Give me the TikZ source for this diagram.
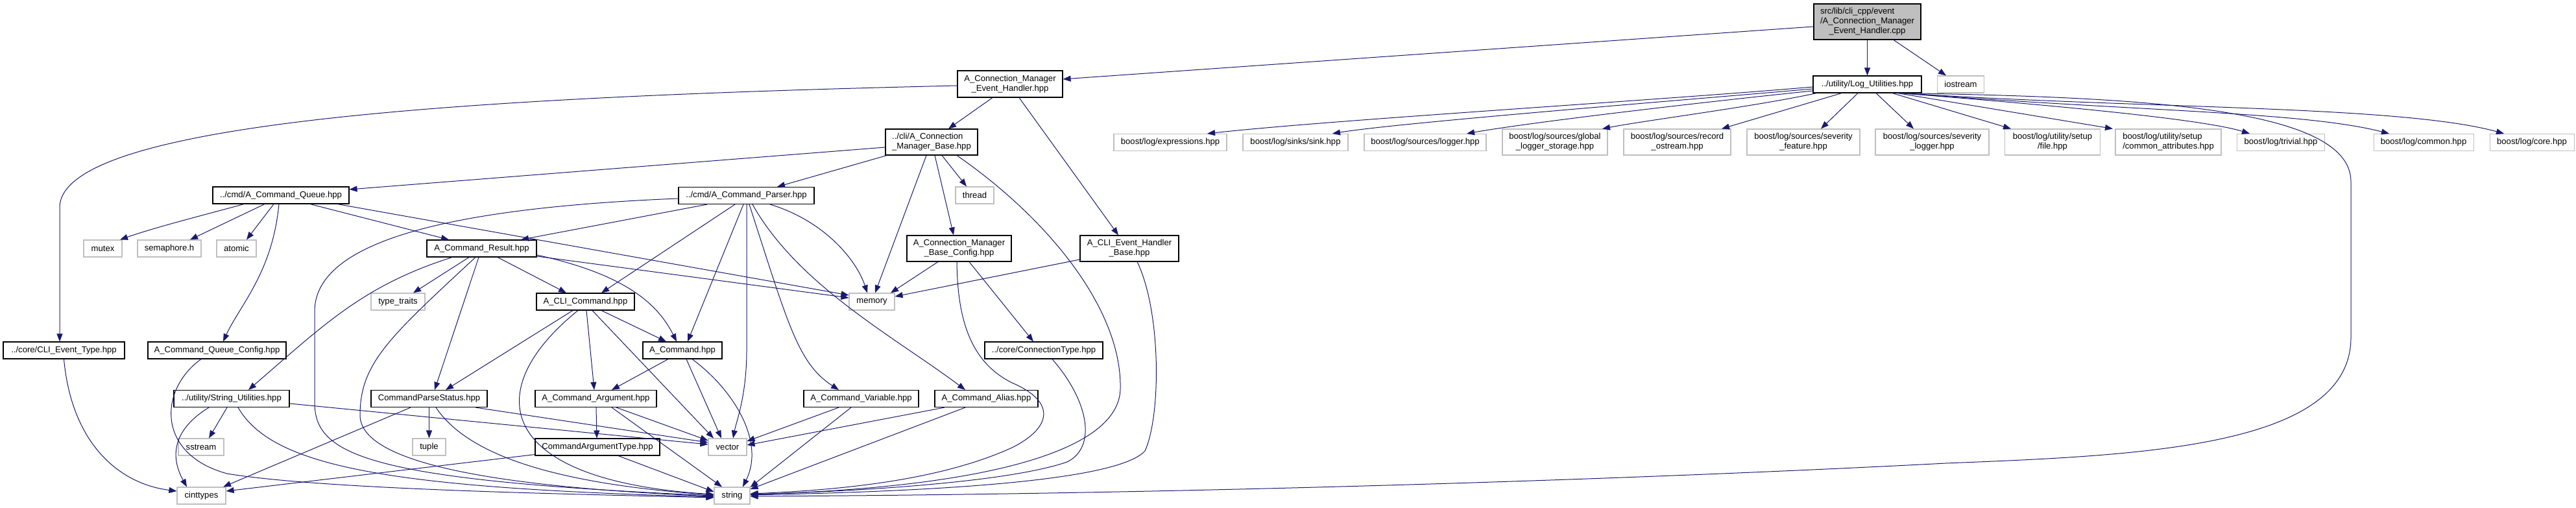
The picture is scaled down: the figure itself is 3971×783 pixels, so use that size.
\documentclass[tikz,border=0pt]{standalone}
\usepackage{fontspec}
\setmainfont{Liberation Sans}
\usetikzlibrary{arrows.meta}
\definecolor{edgecol}{RGB}{25,25,112}
\definecolor{greyb}{RGB}{191,191,191}
\begin{document}
\begin{tikzpicture}[x=1pt,y=-1pt,
  box/.style={inner sep=0pt, line width=1.1pt, fill=white, minimum height=26pt, font=\fontsize{13.1pt}{14.8pt}\selectfont, align=center},
  doc/.style={box, draw=black},
  ext/.style={box, draw=greyb},
  rootn/.style={box, draw=black, fill=greyb},
  dep/.style={draw=edgecol, line width=1pt, -{Triangle[length=12pt,width=9pt]}}]
\fill[white] (0,0) rectangle (3971,783);
\useasboundingbox (0,0) rectangle (3971,783);

% nodes
\node[rootn, minimum width=165pt, minimum height=55pt] (root) at (2878.5,33.5) {\begin{tabular}{@{}l@{}}src/lib/cli\_cpp/event\\/A\_Connection\_Manager\\\multicolumn{1}{@{}c@{}}{\_Event\_Handler.cpp}\end{tabular}};
\node[doc, minimum width=162pt, minimum height=41pt] (cmeh) at (1557,129.5) {A\_Connection\_Manager\\\_Event\_Handler.hpp};
\node[doc, minimum width=167pt] (lu) at (2878.5,130) {../utility/Log\_Utilities.hpp};
\node[ext, minimum width=72pt] (ios) at (3022.5,130) {iostream};
\node[ext, minimum width=174pt] (expr) at (1804,219.5) {boost/log/expressions.hpp};
\node[ext, minimum width=162pt] (sink) at (1997,219.5) {boost/log/sinks/sink.hpp};
\node[ext, minimum width=188pt] (slog) at (2197,219.5) {boost/log/sources/logger.hpp};
\node[ext, minimum width=162pt, minimum height=40pt] (glob) at (2397,219) {boost/log/sources/global\\\_logger\_storage.hpp};
\node[ext, minimum width=165pt, minimum height=40pt] (rec) at (2585.5,219) {boost/log/sources/record\\\_ostream.hpp};
\node[ext, minimum width=174pt, minimum height=40pt] (sevf) at (2780,219) {boost/log/sources/severity\\\_feature.hpp};
\node[ext, minimum width=175pt, minimum height=40pt] (sevl) at (2978.5,219) {boost/log/sources/severity\\\_logger.hpp};
\node[ext, minimum width=147pt, minimum height=40pt] (file) at (3164,219) {boost/log/utility/setup\\/file.hpp};
\node[ext, minimum width=163pt, minimum height=40pt] (catt) at (3342.5,219) {\begin{tabular}{@{}l@{}}boost/log/utility/setup\\/common\_attributes.hpp\end{tabular}};
\node[ext, minimum width=135pt] (triv) at (3516,219.5) {boost/log/trivial.hpp};
\node[ext, minimum width=154pt] (comm) at (3736,219.5) {boost/log/common.hpp};
\node[ext, minimum width=130pt] (core) at (3903,219.5) {boost/log/core.hpp};

\node[doc, minimum width=142pt, minimum height=40pt] (cmb) at (1436,219) {\begin{tabular}{@{}l@{}}../cli/A\_Connection\\\_Manager\_Base.hpp\end{tabular}};
\node[ext, minimum width=59pt] (thread) at (1502.5,301) {thread};
\node[doc, minimum width=209pt] (cp) at (1150.5,301.5) {../cmd/A\_Command\_Parser.hpp};
\node[doc, minimum width=210pt] (cq) at (433,301) {../cmd/A\_Command\_Queue.hpp};
\node[doc, minimum width=161pt, minimum height=40pt] (cmbc) at (1478.5,383) {A\_Connection\_Manager\\\_Base\_Config.hpp};
\node[doc, minimum width=152pt, minimum height=40pt] (cehb) at (1741,383) {A\_CLI\_Event\_Handler\\\_Base.hpp};
\node[ext, minimum width=59pt] (mutex) at (158.5,383) {mutex};
\node[ext, minimum width=98pt] (sem) at (261,383) {semaphore.h};
\node[ext, minimum width=61pt] (atomic) at (364.5,383) {atomic};
\node[doc, minimum width=169pt] (acr) at (742.5,383) {A\_Command\_Result.hpp};
\node[ext, minimum width=70pt] (memory) at (1344,465) {memory};
\node[ext, minimum width=83pt] (tt) at (613.5,465) {type\_traits};
\node[doc, minimum width=151pt] (acli) at (902.5,465) {A\_CLI\_Command.hpp};
\node[doc, minimum width=187pt] (cet) at (98.5,540) {../core/CLI\_Event\_Type.hpp};
\node[doc, minimum width=213pt] (cqc) at (334.5,540) {A\_Command\_Queue\_Config.hpp};
\node[doc, minimum width=122pt] (ac) at (1052,540) {A\_Command.hpp};
\node[doc, minimum width=182pt] (ct) at (1609,540) {../core/ConnectionType.hpp};
\node[doc, minimum width=178pt] (su) at (357,614.5) {../utility/String\_Utilities.hpp};
\node[doc, minimum width=179pt] (cps) at (661.5,614.5) {CommandParseStatus.hpp};
\node[doc, minimum width=187pt] (aarg) at (918.5,614.5) {A\_Command\_Argument.hpp};
\node[doc, minimum width=177pt] (avar) at (1327.5,614.5) {A\_Command\_Variable.hpp};
\node[doc, minimum width=159pt] (aal) at (1520.5,614.5) {A\_Command\_Alias.hpp};
\node[ext, minimum width=70pt] (sstream) at (310,689) {sstream};
\node[ext, minimum width=51pt] (tuple) at (661.5,689) {tuple};
\node[doc, minimum width=192pt] (cat) at (921,689) {CommandArgumentType.hpp};
\node[ext, minimum width=59pt] (vec) at (1121.5,689) {vector};
\node[ext, minimum width=75pt] (cint) at (310.5,764) {cinttypes};
\node[ext, minimum width=55pt] (str) at (1128.5,764) {string};

% root
\draw[dep] ([yshift=-7.5pt]root.west) -- ([yshift=7.5pt]cmeh.east);
\draw[dep] (root.south) -- (lu.north);
\draw[dep] ([xshift=40.5pt]root.south) -- ([xshift=-22.5pt]ios.north);
% cmeh
\draw[dep] ([xshift=-27pt]cmeh.south) -- ([xshift=26pt]cmb.north);
\draw[dep] ([xshift=14pt]cmeh.south) -- ([xshift=-17pt]cehb.north);
\draw[dep] ([yshift=-2.5pt]cmeh.west) .. controls (700,150) and (92,190) .. (92,320) -- ([xshift=-6.5pt]cet.north);
% lu
\draw[dep] ([yshift=-4pt]lu.west) .. controls (2550,155) and (2050,185) .. ([xshift=57pt]expr.north);
\draw[dep] ([yshift=-7pt]lu.west) .. controls (2550,158) and (2150,190) .. ([xshift=57pt]sink.north);
\draw[dep] ([yshift=-10pt]lu.west) .. controls (2600,160) and (2350,190) .. ([xshift=64pt]slog.north);
\draw[dep] ([xshift=-78pt]lu.south) .. controls (2700,165) and (2540,185) .. ([xshift=73pt]glob.north);
\draw[dep] ([xshift=-39.5pt]lu.south) -- ([xshift=68.5pt]rec.north);
\draw[dep] ([xshift=-14.5pt]lu.south) -- ([xshift=27pt]sevf.north);
\draw[dep] ([xshift=13.5pt]lu.south) -- ([xshift=-28.5pt]sevl.north);
\draw[dep] ([xshift=38.5pt]lu.south) -- ([xshift=-64pt]file.north);
\draw[dep] ([xshift=46.5pt]lu.south) -- ([xshift=-85.5pt]catt.north);
\draw[dep] ([xshift=50.5pt]lu.south) .. controls (3200,165) and (3400,185) .. ([xshift=-48pt]triv.north);
\draw[dep] ([xshift=52.5pt]lu.south) .. controls (3300,172) and (3550,172) .. ([xshift=-53pt]comm.north);
\draw[dep] ([xshift=54.5pt]lu.south) .. controls (3300,168) and (3700,162) .. ([xshift=-43pt]core.north);
\draw[dep] ([xshift=56.5pt]lu.south) .. controls (3300,150) and (3624,165) .. (3624,280) -- (3624,520) .. controls (3624,690) and (3300,702) .. (3000,714) .. controls (2500,740) and (1800,762) .. ([yshift=-1pt]str.east);
% cmb
\draw[dep] ([yshift=-8pt]cmb.west) -- ([yshift=9pt]cq.east);
\draw[dep] ([xshift=-69pt]cmb.south) -- ([xshift=47.5pt]cp.north);
\draw[dep] ([xshift=-8pt]cmb.south) -- ([xshift=5pt]memory.north);
\draw[dep] ([xshift=16pt]cmb.south) -- ([xshift=-12.5pt]thread.north);
\draw[dep] ([xshift=5pt]cmb.south) -- ([xshift=-8.5pt]cmbc.north);
\draw[dep] ([xshift=39pt]cmb.south) .. controls (1620,340) and (1730,480) .. (1727,600) .. controls (1724,700) and (1500,752) .. ([yshift=2pt]str.east);
% cq
\draw[dep] ([xshift=-57pt]cq.south) .. controls (320,330) and (240,350) .. ([xshift=26.5pt]mutex.north);
\draw[dep] ([xshift=-25pt]cq.south) -- ([xshift=32pt]sem.north);
\draw[dep] ([xshift=-11pt]cq.south) -- ([xshift=15.5pt]atomic.north);
\draw[dep] ([xshift=-3pt]cq.south) .. controls (420,420) and (370,470) .. ([xshift=9.5pt]cqc.north);
\draw[dep] ([xshift=45pt]cq.south) -- ([xshift=-50.5pt]acr.north);
\draw[dep] ([xshift=87pt]cq.south) -- ([yshift=10pt]memory.west);
% cp
\draw[dep] ([xshift=-60.5pt]cp.south) -- ([xshift=60.5pt]acr.north);
\draw[dep] ([xshift=-17.5pt]cp.south) -- ([xshift=24.5pt]acli.north);
\draw[dep] ([xshift=-4.5pt]cp.south) -- ([xshift=8pt]ac.north);
\draw[dep] ([xshift=0.5pt]cp.south) -- (1151,540) .. controls (1151,610) and (1135,650) .. ([xshift=8.5pt]vec.north);
\draw[dep] ([xshift=4.5pt]cp.south) .. controls (1215,500) and (1230,560) .. ([xshift=-34.5pt]avar.north);
\draw[dep] ([xshift=9.5pt]cp.south) .. controls (1230,440) and (1380,520) .. ([xshift=-32.5pt]aal.north);
\draw[dep] ([xshift=36.5pt]cp.south) .. controls (1270,340) and (1320,400) .. ([xshift=-7pt]memory.north);
\draw[dep] ([yshift=-4.5pt]cp.west) .. controls (700,320) and (485,370) .. (485,480) -- (485,620) .. controls (485,700) and (560,740) .. (str.west);
% cmbc
\draw[dep] ([xshift=-32.5pt]cmbc.south) -- ([xshift=29pt]memory.north);
\draw[dep] ([xshift=-3.5pt]cmbc.south) .. controls (1476,500) and (1500,560) .. (1560,590) .. controls (1630,620) and (1620,660) .. (1560,690) .. controls (1450,740) and (1300,755) .. ([yshift=3pt]str.east);
\draw[dep] ([xshift=15.5pt]cmbc.south) -- ([xshift=-16pt]ct.north);
% cehb
\draw[dep] ([yshift=-17pt]cehb.west) -- ([yshift=8pt]memory.east);
\draw[dep] ([xshift=12pt]cehb.south) .. controls (1790,480) and (1790,640) .. (1765,695) .. controls (1720,745) and (1400,758) .. ([yshift=1pt]str.east);
% ct
\draw[dep] ([xshift=13pt]ct.south) .. controls (1680,620) and (1690,690) .. (1645,712) .. controls (1550,745) and (1300,758) .. ([yshift=2pt]str.east);
% acr
\draw[dep] ([xshift=-45.5pt]acr.south) .. controls (560,440) and (500,500) .. ([xshift=26pt]su.north);
\draw[dep] ([xshift=-19.5pt]acr.south) -- ([xshift=23.5pt]tt.north);
\draw[dep] ([xshift=-9.5pt]acr.south) .. controls (600,520) and (555,560) .. (555,640) .. controls (555,720) and (800,752) .. ([yshift=-1pt]str.west);
\draw[dep] ([xshift=-4.5pt]acr.south) -- ([xshift=8.5pt]cps.north);
\draw[dep] ([xshift=24.5pt]acr.south) -- ([xshift=-29.5pt]acli.north);
\draw[dep] ([yshift=-10pt]acr.east) .. controls (950,420) and (1010,460) .. ([xshift=-9pt]ac.north);
\draw[dep] ([yshift=-12pt]acr.east) -- ([yshift=6pt]memory.west);
% acli
\draw[dep] ([xshift=-19.5pt]acli.south) -- ([xshift=25.5pt]cps.north);
\draw[dep] ([xshift=-11.5pt]acli.south) .. controls (740,600) and (760,740) .. ([yshift=2pt]str.west);
\draw[dep] ([xshift=1.5pt]acli.south) -- ([xshift=-2.5pt]aarg.north);
\draw[dep] ([xshift=10.5pt]acli.south) -- ([xshift=-21.5pt]vec.north);
\draw[dep] ([xshift=24.5pt]acli.south) -- ([xshift=-25pt]ac.north);
% ac
\draw[dep] ([xshift=-22pt]ac.south) -- ([xshift=24.5pt]aarg.north);
\draw[dep] ([xshift=6pt]ac.south) -- ([xshift=-9.5pt]vec.north);
\draw[dep] ([xshift=15pt]ac.south) .. controls (1130,600) and (1180,680) .. ([xshift=16.5pt]str.north);
% aarg
\draw[dep] ([xshift=0.5pt]aarg.south) -- ([xshift=-1pt]cat.north);
\draw[dep] ([xshift=31.5pt]aarg.south) -- ([yshift=10pt]vec.west);
\draw[dep] ([xshift=24.5pt]aarg.south) -- ([xshift=-15.5pt]str.north);
% cat
\draw[dep] ([xshift=32pt]cat.south) -- ([yshift=6pt]str.west);
\draw[dep] ([yshift=2pt]cat.south west) -- ([yshift=7pt]cint.east);
% cps
\draw[dep] ([xshift=-28.5pt]cps.south) -- ([xshift=33.5pt]cint.north);
\draw[dep] (cps.south) -- (tuple.north);
\draw[dep] ([xshift=10.5pt]cps.south) .. controls (720,700) and (850,745) .. ([yshift=1pt]str.west);
\draw[dep] ([xshift=71.5pt]cps.south) -- ([yshift=7pt]vec.west);
% su
\draw[dep] ([xshift=-7pt]su.south) -- ([xshift=12pt]sstream.north);
\draw[dep] ([xshift=-35pt]su.south) .. controls (270,660) and (260,700) .. ([xshift=-22.5pt]cint.north);
\draw[dep] ([xshift=10pt]su.south) .. controls (420,720) and (600,752) .. ([yshift=-2pt]str.west);
\draw[dep] ([yshift=-7.5pt]su.east) -- ([yshift=4pt]vec.west);
% cqc, cet
\draw[dep] ([xshift=-24.5pt]cqc.south) .. controls (245,600) and (240,700) .. (350,730) .. controls (500,755) and (900,762) .. ([yshift=-3pt]str.west);
\draw[dep] (cet.south) .. controls (110,680) and (180,745) .. ([yshift=7pt]cint.west);
% avar, aal
\draw[dep] ([xshift=-34.5pt]avar.south) -- ([yshift=9pt]vec.east);
\draw[dep] ([xshift=-15.5pt]avar.south) -- ([yshift=13pt]str.east);
\draw[dep] ([xshift=-64.5pt]aal.south) -- ([yshift=3pt]vec.east);
\draw[dep] ([xshift=-32.5pt]aal.south) -- ([yshift=10pt]str.east);
\end{tikzpicture}
\end{document}
